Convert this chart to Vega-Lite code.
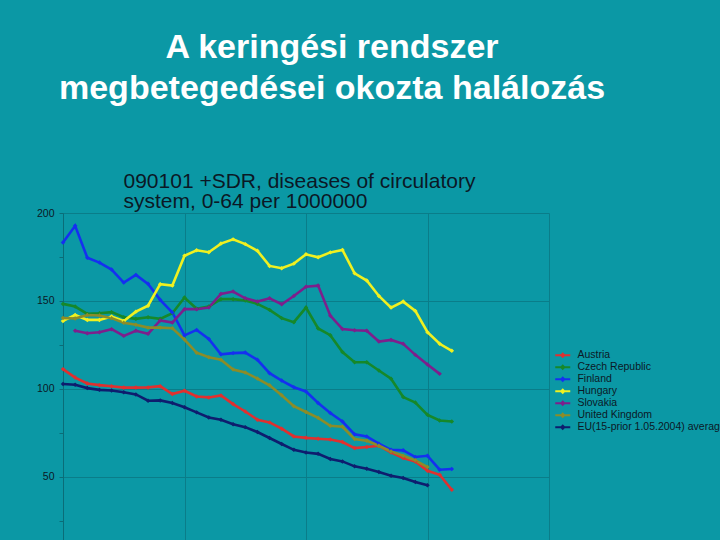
{
 "$schema": "https://vega.github.io/schema/vega-lite/v6.json",
 "autosize": {"type": "none"},
 "padding": {"left": 63, "top": 213, "right": 171, "bottom": 0},
 "width": 486,
 "height": 327,
 "background": "#0b98a5",
 "config": {"view": {"stroke": null}, "font": "Liberation Sans"},
 "title": {
  "text": ["A keringési rendszer", "megbetegedései okozta halálozás"],
  "color": "#ffffff", "font": "Liberation Sans", "fontSize": 34, "fontWeight": "bold",
  "lineHeight": 41, "anchor": "middle", "frame": "group", "dx": 26, "offset": 64
 },
 "datasets": {
  "rates": [
   {"country":"Austria","year":1970,"value":111.2},{"country":"Austria","year":1971,"value":106.4},{"country":"Austria","year":1972,"value":103},{"country":"Austria","year":1973,"value":102.1},{"country":"Austria","year":1974,"value":101.5},{"country":"Austria","year":1975,"value":100.7},{"country":"Austria","year":1976,"value":100.7},{"country":"Austria","year":1977,"value":100.8},{"country":"Austria","year":1978,"value":101.5},{"country":"Austria","year":1979,"value":97},{"country":"Austria","year":1980,"value":98.9},{"country":"Austria","year":1981,"value":95.6},{"country":"Austria","year":1982,"value":95.1},{"country":"Austria","year":1983,"value":96.2},{"country":"Austria","year":1984,"value":91.3},{"country":"Austria","year":1985,"value":87.1},{"country":"Austria","year":1986,"value":82.4},{"country":"Austria","year":1987,"value":80.9},{"country":"Austria","year":1988,"value":77.3},{"country":"Austria","year":1989,"value":72.9},{"country":"Austria","year":1990,"value":72.1},{"country":"Austria","year":1991,"value":71.6},{"country":"Austria","year":1992,"value":71.2},{"country":"Austria","year":1993,"value":69.7},{"country":"Austria","year":1994,"value":66.3},{"country":"Austria","year":1995,"value":66.9},{"country":"Austria","year":1996,"value":67.6},{"country":"Austria","year":1997,"value":63.8},{"country":"Austria","year":1998,"value":60.6},{"country":"Austria","year":1999,"value":58.7},{"country":"Austria","year":2000,"value":53.4},{"country":"Austria","year":2001,"value":51.1},{"country":"Austria","year":2002,"value":42.6},
   {"country":"Czech Republic","year":1970,"value":148.3},{"country":"Czech Republic","year":1971,"value":146.8},{"country":"Czech Republic","year":1972,"value":142.6},{"country":"Czech Republic","year":1973,"value":143},{"country":"Czech Republic","year":1974,"value":143.6},{"country":"Czech Republic","year":1975,"value":140.7},{"country":"Czech Republic","year":1976,"value":139.8},{"country":"Czech Republic","year":1977,"value":140.7},{"country":"Czech Republic","year":1978,"value":139.8},{"country":"Czech Republic","year":1979,"value":143},{"country":"Czech Republic","year":1980,"value":151.9},{"country":"Czech Republic","year":1981,"value":145.5},{"country":"Czech Republic","year":1982,"value":146.8},{"country":"Czech Republic","year":1983,"value":151},{"country":"Czech Republic","year":1984,"value":151},{"country":"Czech Republic","year":1985,"value":150.2},{"country":"Czech Republic","year":1986,"value":148.3},{"country":"Czech Republic","year":1987,"value":144.9},{"country":"Czech Republic","year":1988,"value":140.2},{"country":"Czech Republic","year":1989,"value":137.9},{"country":"Czech Republic","year":1990,"value":146.2},{"country":"Czech Republic","year":1991,"value":134.3},{"country":"Czech Republic","year":1992,"value":130.5},{"country":"Czech Republic","year":1993,"value":120.9},{"country":"Czech Republic","year":1994,"value":115.1},{"country":"Czech Republic","year":1995,"value":115.1},{"country":"Czech Republic","year":1996,"value":110.4},{"country":"Czech Republic","year":1997,"value":105.7},{"country":"Czech Republic","year":1998,"value":95.3},{"country":"Czech Republic","year":1999,"value":92.2},{"country":"Czech Republic","year":2000,"value":85.2},{"country":"Czech Republic","year":2001,"value":82},{"country":"Czech Republic","year":2002,"value":81.4},
   {"country":"Finland","year":1970,"value":183.2},{"country":"Finland","year":1971,"value":192.7},{"country":"Finland","year":1972,"value":174.6},{"country":"Finland","year":1973,"value":171.8},{"country":"Finland","year":1974,"value":167.8},{"country":"Finland","year":1975,"value":160.4},{"country":"Finland","year":1976,"value":164.8},{"country":"Finland","year":1977,"value":159.7},{"country":"Finland","year":1978,"value":150.6},{"country":"Finland","year":1979,"value":143.4},{"country":"Finland","year":1980,"value":130.4},{"country":"Finland","year":1981,"value":133.5},{"country":"Finland","year":1982,"value":128.3},{"country":"Finland","year":1983,"value":119.6},{"country":"Finland","year":1984,"value":120.3},{"country":"Finland","year":1985,"value":120.6},{"country":"Finland","year":1986,"value":116.5},{"country":"Finland","year":1987,"value":108.9},{"country":"Finland","year":1988,"value":104.7},{"country":"Finland","year":1989,"value":100.9},{"country":"Finland","year":1990,"value":98.5},{"country":"Finland","year":1991,"value":91.9},{"country":"Finland","year":1992,"value":86.2},{"country":"Finland","year":1993,"value":81.4},{"country":"Finland","year":1994,"value":74.1},{"country":"Finland","year":1995,"value":72.9},{"country":"Finland","year":1996,"value":68.8},{"country":"Finland","year":1997,"value":65.3},{"country":"Finland","year":1998,"value":65},{"country":"Finland","year":1999,"value":61.2},{"country":"Finland","year":2000,"value":61.9},{"country":"Finland","year":2001,"value":54},{"country":"Finland","year":2002,"value":54.4},
   {"country":"Hungary","year":1970,"value":138.6},{"country":"Hungary","year":1971,"value":142},{"country":"Hungary","year":1972,"value":139.2},{"country":"Hungary","year":1973,"value":139.2},{"country":"Hungary","year":1974,"value":141.1},{"country":"Hungary","year":1975,"value":138.6},{"country":"Hungary","year":1976,"value":143.9},{"country":"Hungary","year":1977,"value":147.3},{"country":"Hungary","year":1978,"value":159.5},{"country":"Hungary","year":1979,"value":158.7},{"country":"Hungary","year":1980,"value":175.7},{"country":"Hungary","year":1981,"value":178.8},{"country":"Hungary","year":1982,"value":177.7},{"country":"Hungary","year":1983,"value":182.6},{"country":"Hungary","year":1984,"value":185},{"country":"Hungary","year":1985,"value":182.3},{"country":"Hungary","year":1986,"value":178.5},{"country":"Hungary","year":1987,"value":169.9},{"country":"Hungary","year":1988,"value":168.6},{"country":"Hungary","year":1989,"value":171.2},{"country":"Hungary","year":1990,"value":176.5},{"country":"Hungary","year":1991,"value":174.8},{"country":"Hungary","year":1992,"value":177.6},{"country":"Hungary","year":1993,"value":179},{"country":"Hungary","year":1994,"value":165.7},{"country":"Hungary","year":1995,"value":161.6},{"country":"Hungary","year":1996,"value":152.8},{"country":"Hungary","year":1997,"value":146.2},{"country":"Hungary","year":1998,"value":149.6},{"country":"Hungary","year":1999,"value":144.3},{"country":"Hungary","year":2000,"value":132.2},{"country":"Hungary","year":2001,"value":125.6},{"country":"Hungary","year":2002,"value":121.6},
   {"country":"Slovakia","year":1971,"value":133},{"country":"Slovakia","year":1972,"value":131.6},{"country":"Slovakia","year":1973,"value":132.2},{"country":"Slovakia","year":1974,"value":133.9},{"country":"Slovakia","year":1975,"value":130.1},{"country":"Slovakia","year":1976,"value":133},{"country":"Slovakia","year":1977,"value":131.3},{"country":"Slovakia","year":1978,"value":138.9},{"country":"Slovakia","year":1979,"value":137.7},{"country":"Slovakia","year":1980,"value":145.3},{"country":"Slovakia","year":1981,"value":145.3},{"country":"Slovakia","year":1982,"value":146.2},{"country":"Slovakia","year":1983,"value":154},{"country":"Slovakia","year":1984,"value":155.3},{"country":"Slovakia","year":1985,"value":151.5},{"country":"Slovakia","year":1986,"value":149.6},{"country":"Slovakia","year":1987,"value":151.5},{"country":"Slovakia","year":1988,"value":148.1},{"country":"Slovakia","year":1989,"value":152.8},{"country":"Slovakia","year":1990,"value":158.1},{"country":"Slovakia","year":1991,"value":158.7},{"country":"Slovakia","year":1992,"value":141.6},{"country":"Slovakia","year":1993,"value":134},{"country":"Slovakia","year":1994,"value":133.3},{"country":"Slovakia","year":1995,"value":133},{"country":"Slovakia","year":1996,"value":126.9},{"country":"Slovakia","year":1997,"value":127.8},{"country":"Slovakia","year":1998,"value":125.6},{"country":"Slovakia","year":1999,"value":119.3},{"country":"Slovakia","year":2000,"value":113.8},{"country":"Slovakia","year":2001,"value":108.5},
   {"country":"United Kingdom","year":1970,"value":140.3},{"country":"United Kingdom","year":1971,"value":140},{"country":"United Kingdom","year":1972,"value":142},{"country":"United Kingdom","year":1973,"value":141.7},{"country":"United Kingdom","year":1974,"value":140.2},{"country":"United Kingdom","year":1975,"value":137.6},{"country":"United Kingdom","year":1976,"value":136.4},{"country":"United Kingdom","year":1977,"value":134.8},{"country":"United Kingdom","year":1978,"value":134.8},{"country":"United Kingdom","year":1979,"value":134.5},{"country":"United Kingdom","year":1980,"value":128},{"country":"United Kingdom","year":1981,"value":120.5},{"country":"United Kingdom","year":1982,"value":117.9},{"country":"United Kingdom","year":1983,"value":116.5},{"country":"United Kingdom","year":1984,"value":111},{"country":"United Kingdom","year":1985,"value":109.3},{"country":"United Kingdom","year":1986,"value":105.8},{"country":"United Kingdom","year":1987,"value":102},{"country":"United Kingdom","year":1988,"value":96.3},{"country":"United Kingdom","year":1989,"value":90.1},{"country":"United Kingdom","year":1990,"value":86.8},{"country":"United Kingdom","year":1991,"value":83.5},{"country":"United Kingdom","year":1992,"value":79},{"country":"United Kingdom","year":1993,"value":78.4},{"country":"United Kingdom","year":1994,"value":71.4},{"country":"United Kingdom","year":1995,"value":70.5},{"country":"United Kingdom","year":1996,"value":67.6},{"country":"United Kingdom","year":1997,"value":64.4},{"country":"United Kingdom","year":1998,"value":61.9},{"country":"United Kingdom","year":1999,"value":59.3},{"country":"United Kingdom","year":2000,"value":55.5},
   {"country":"EU(15-prior 1.05.2004) average","year":1970,"value":102.7},{"country":"EU(15-prior 1.05.2004) average","year":1971,"value":102.3},{"country":"EU(15-prior 1.05.2004) average","year":1972,"value":100.4},{"country":"EU(15-prior 1.05.2004) average","year":1973,"value":99.4},{"country":"EU(15-prior 1.05.2004) average","year":1974,"value":99},{"country":"EU(15-prior 1.05.2004) average","year":1975,"value":98},{"country":"EU(15-prior 1.05.2004) average","year":1976,"value":96.8},{"country":"EU(15-prior 1.05.2004) average","year":1977,"value":93.2},{"country":"EU(15-prior 1.05.2004) average","year":1978,"value":93.4},{"country":"EU(15-prior 1.05.2004) average","year":1979,"value":91.9},{"country":"EU(15-prior 1.05.2004) average","year":1980,"value":89.5},{"country":"EU(15-prior 1.05.2004) average","year":1981,"value":86.6},{"country":"EU(15-prior 1.05.2004) average","year":1982,"value":83.7},{"country":"EU(15-prior 1.05.2004) average","year":1983,"value":82.4},{"country":"EU(15-prior 1.05.2004) average","year":1984,"value":79.9},{"country":"EU(15-prior 1.05.2004) average","year":1985,"value":78.2},{"country":"EU(15-prior 1.05.2004) average","year":1986,"value":75.4},{"country":"EU(15-prior 1.05.2004) average","year":1987,"value":72},{"country":"EU(15-prior 1.05.2004) average","year":1988,"value":68.6},{"country":"EU(15-prior 1.05.2004) average","year":1989,"value":65.3},{"country":"EU(15-prior 1.05.2004) average","year":1990,"value":63.8},{"country":"EU(15-prior 1.05.2004) average","year":1991,"value":63},{"country":"EU(15-prior 1.05.2004) average","year":1992,"value":60.1},{"country":"EU(15-prior 1.05.2004) average","year":1993,"value":58.7},{"country":"EU(15-prior 1.05.2004) average","year":1994,"value":55.9},{"country":"EU(15-prior 1.05.2004) average","year":1995,"value":54.5},{"country":"EU(15-prior 1.05.2004) average","year":1996,"value":52.7},{"country":"EU(15-prior 1.05.2004) average","year":1997,"value":50.6},{"country":"EU(15-prior 1.05.2004) average","year":1998,"value":49.3},{"country":"EU(15-prior 1.05.2004) average","year":1999,"value":47},{"country":"EU(15-prior 1.05.2004) average","year":2000,"value":45.1}
  ]
 },
 "data": {"name": "rates"},
 "mark": {"type": "line", "strokeWidth": 2.6, "point": {"filled": true, "size": 20, "shape": "diamond"}},
 "encoding": {
  "x": {
   "field": "year", "type": "quantitative",
   "scale": {"domain": [1970, 2010], "nice": false, "zero": false},
   "axis": {
    "orient": "top", "values": [1970, 1980, 1990, 2000, 2010],
    "labels": false, "ticks": false, "domain": false,
    "grid": true, "gridColor": "#0a7d89", "gridWidth": 1,
    "title": ["090101 +SDR, diseases of circulatory", "system, 0-64 per 1000000"],
    "titleFont": "Liberation Sans", "titleFontSize": 21, "titleFontWeight": "normal",
    "titleColor": "#0b1826", "titleAnchor": "start", "titleAlign": "left",
    "titleBaseline": "alphabetic", "titleX": 60, "titleY": -26, "titleLineHeight": 20
   }
  },
  "y": {
   "field": "value", "type": "quantitative",
   "scale": {"domain": [14, 200], "nice": false, "zero": false},
   "axis": {
    "values": [25, 50, 75, 100, 125, 150, 175, 200],
    "labelExpr": "datum.value % 50 === 0 ? datum.label : ''",
    "grid": true, "gridColor": "#0a7d89", "gridWidth": 1,
    "gridOpacity": {"condition": {"test": "datum.value % 50 === 0", "value": 1}, "value": 0},
    "domain": true, "domainColor": "#0a6d78", "domainWidth": 1,
    "ticks": true, "tickColor": "#0a6d78", "tickSize": 4,
    "labelFont": "Liberation Sans", "labelFontSize": 10.5, "labelColor": "#0b1826", "labelPadding": 5,
    "title": null
   }
  },
  "color": {
   "field": "country", "type": "nominal",
   "scale": {
    "domain": ["Austria", "Czech Republic", "Finland", "Hungary", "Slovakia", "United Kingdom", "EU(15-prior 1.05.2004) average"],
    "range": ["#e0302f", "#16882a", "#1530f0", "#f0f020", "#7d1f8c", "#8c8c28", "#0e1d6e"]
   },
   "legend": {
    "orient": "none", "legendX": 494.5, "legendY": 137, "title": null,
    "labelFont": "Liberation Sans", "labelFontSize": 10.5, "labelColor": "#0b1826",
    "symbolType": "M-2.5,0H2.5M-0.5,0L0,-0.5L0.5,0L0,0.5Z", "symbolSize": 36, "symbolStrokeWidth": 2,
    "rowPadding": 0, "labelOffset": 9.4, "padding": 0, "labelLimit": 300,
    "encode": {"labels": {"update": {"lineHeight": {"value": 9.5}}}}
   }
  }
 }
}
